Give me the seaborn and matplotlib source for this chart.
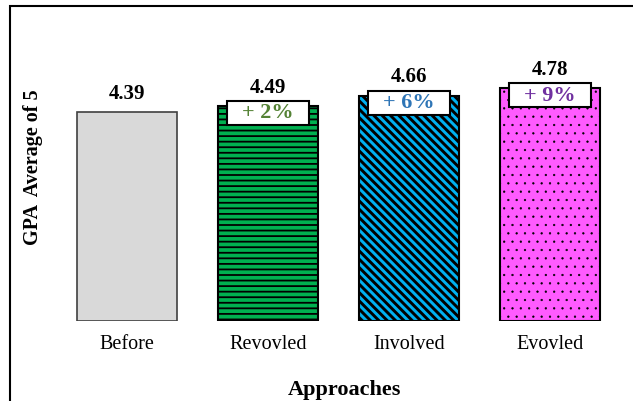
import numpy as np
import pandas as pd
import matplotlib.pyplot as plt
from matplotlib.patches import Rectangle
import seaborn as sns

approaches = ['Before', 'Revovled', 'Involved', 'Evovled']
gpa = [4.39, 4.49, 4.66, 4.78]
gains = [None, '+ 2%', '+ 6%', '+ 9%']
bar_colors = ['#D9D9D9', '#00B050', '#00B0F0', '#FF5BFF']
gain_colors = [None, '#548235', '#2E75B6', '#7030A0']
hatches = ['', '---', '\\\\\\\\', '..']
hatch_lw = [1.0, 1.3, 2.1, 0.4]
baseline = 1.0

df = pd.DataFrame({'approach': approaches, 'gpa': gpa})

sns.set_style('white')
plt.rcParams['font.family'] = ['Liberation Serif', 'DejaVu Serif']
plt.rcParams['text.color'] = 'black'
plt.rcParams['xtick.color'] = 'black'
plt.rcParams['axes.labelcolor'] = 'black'

fig = plt.figure(figsize=(6.33, 4.01), dpi=100)
ax = fig.add_axes([0.0893, 0.1995, 0.891, 0.768])

sns.barplot(data=df, x='approach', y='gpa', hue='approach', palette=bar_colors,
            saturation=1, legend=False, width=0.71, edgecolor='black',
            linewidth=1.5, ax=ax)

# bars start at the axis floor (1), not zero
for p, v, h, lw in zip(ax.patches, gpa, hatches, hatch_lw):
    p.set_y(baseline)
    p.set_height(v - baseline)
    p.set_hatch(h)
    if hasattr(p, 'set_hatch_linewidth'):
        p.set_hatch_linewidth(lw)
ax.patches[0].set_edgecolor('#404040')
ax.patches[0].set_linewidth(1.2)

ax.set_ylim(baseline, 6)
ax.set_xlim(-0.5, 3.5)
sns.despine(ax=ax, left=True, bottom=True)
ax.set_yticks([])
ax.tick_params(axis='x', length=0, pad=10, labelsize=14.5, labelcolor='black')

for i, v in enumerate(gpa):
    ax.annotate(f'{v:.2f}', (i, v), xytext=(0, 9.5), textcoords='offset points',
                ha='center', va='baseline', fontsize=15, fontweight='bold')
    if gains[i]:
        top = v + 0.08
        ax.add_patch(Rectangle((i - 0.29, top - 0.39), 0.58, 0.39,
                               facecolor='white', edgecolor='black', lw=1.5, zorder=5))
        ax.text(i, top - 0.2, gains[i], ha='center', va='center', fontsize=16,
                fontweight='bold', color=gain_colors[i], zorder=6)

ax.set_xlabel('Approaches', fontsize=16, fontweight='bold')
ax.xaxis.set_label_coords(0.511, -0.19)
ax.set_ylabel('GPA  Average of 5', fontsize=14.5, fontweight='bold')
ax.yaxis.set_label_coords(-0.024, 0.5)

# outer chart frame (cut off on right/bottom)
fig.add_artist(Rectangle((10 / 633, -0.1), 1.2, 1.1 - 6 / 401, transform=fig.transFigure,
                         fill=False, edgecolor='black', lw=1.5))

fig.savefig('out.png', dpi=100)
